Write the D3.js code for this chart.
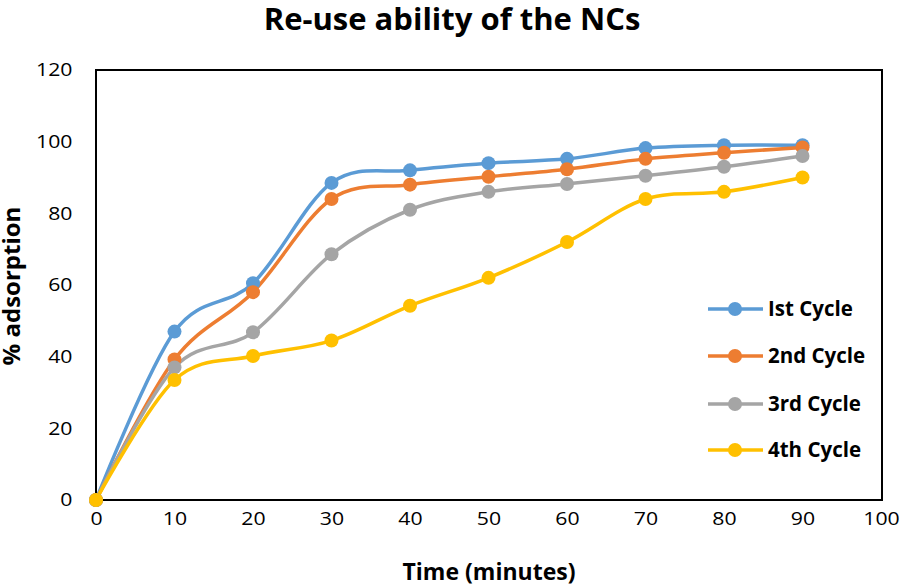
<!DOCTYPE html>
<html><head><meta charset="utf-8">
<script src="https://cdn.jsdelivr.net/npm/d3@7"></script>
<style>body{margin:0;background:#fff}</style>
</head><body><svg id="c" width="900" height="586"></svg>
<script>
const times = [0,10,20,30,40,50,60,70,80,90];
const cycle1 = [0,47,60.5,88.5,92,94,95.2,98.2,99,99];
const cycle2 = [0,39.2,58,84,88,90.2,92.3,95.2,96.9,98.4];
const cycle3 = [0,37,46.8,68.6,81,86,88.2,90.5,93,96];
const cycle4 = [0,33.5,40.2,44.5,54.2,62,72,84,86,90];
const seriesNames = ["Ist Cycle","2nd Cycle","3rd Cycle","4th Cycle"];
const colors = ["#5B9BD5","#ED7D31","#A5A5A5","#FFC000"];
const xTicks = [0,10,20,30,40,50,60,70,80,90,100];
const yTicks = [0,20,40,60,80,100,120];

const series = [cycle1,cycle2,cycle3,cycle4];
const svg = d3.select("#c");
const font = "'Open Sans', sans-serif";
const x = d3.scaleLinear().domain([0,100]).range([96,881]);
const y = d3.scaleLinear().domain([0,120]).range([500,70]);

svg.append("rect").attr("x",96).attr("y",70).attr("width",786).attr("height",430)
  .attr("fill","none").attr("stroke","#000").attr("stroke-width",2);

svg.append("text").attr("x",452).attr("y",30).attr("text-anchor","middle")
  .attr("font-family",font).attr("font-weight","bold").attr("font-size",31).text("Re-use ability of the NCs");

const xa = svg.append("g").attr("transform","translate(0,500)")
  .call(d3.axisBottom(x).tickValues(xTicks).tickSize(0).tickPadding(12));
xa.select(".domain").remove();
xa.selectAll("text").attr("font-family",font).attr("font-size",18).attr("fill","#000")
  .attr("transform","scale(1.18,1)");

const ya = svg.append("g").attr("transform","translate(96,0)")
  .call(d3.axisLeft(y).tickValues(yTicks).tickSize(0).tickPadding(20));
ya.select(".domain").remove();
ya.selectAll("text").attr("font-family",font).attr("font-size",18).attr("fill","#000")
  .attr("transform","scale(1.18,1)");

svg.append("text").attr("x",489).attr("y",580).attr("text-anchor","middle")
  .attr("font-family",font).attr("font-weight","bold").attr("font-size",23).text("Time (minutes)");
svg.append("text").attr("transform","translate(20,286) rotate(-90)").attr("text-anchor","middle")
  .attr("font-family",font).attr("font-weight","bold").attr("font-size",24).text("% adsorption");

const line = d3.line().x((d,i)=>x(times[i])).y(d=>y(d)).curve(d3.curveCardinal.tension(0));
series.forEach((s,k)=>{
  svg.append("path").attr("d",line(s)).attr("fill","none").attr("stroke",colors[k]).attr("stroke-width",3.5);
});
series.forEach((s,k)=>{
  svg.append("g").selectAll("circle").data(s).join("circle")
    .attr("cx",(d,i)=>x(times[i])).attr("cy",d=>y(d)).attr("r",7).attr("fill",colors[k]);
});

const ly = [309,356,404,450];
seriesNames.forEach((n,k)=>{
  const g = svg.append("g");
  g.append("line").attr("x1",708).attr("x2",763).attr("y1",ly[k]).attr("y2",ly[k]).attr("stroke",colors[k]).attr("stroke-width",3.5);
  g.append("circle").attr("cx",735).attr("cy",ly[k]).attr("r",7).attr("fill",colors[k]);
  g.append("text").attr("x",768).attr("y",ly[k]+7).attr("font-family",font).attr("font-weight","bold")
    .attr("font-size",20.5).text(n);
});
</script></body></html>
